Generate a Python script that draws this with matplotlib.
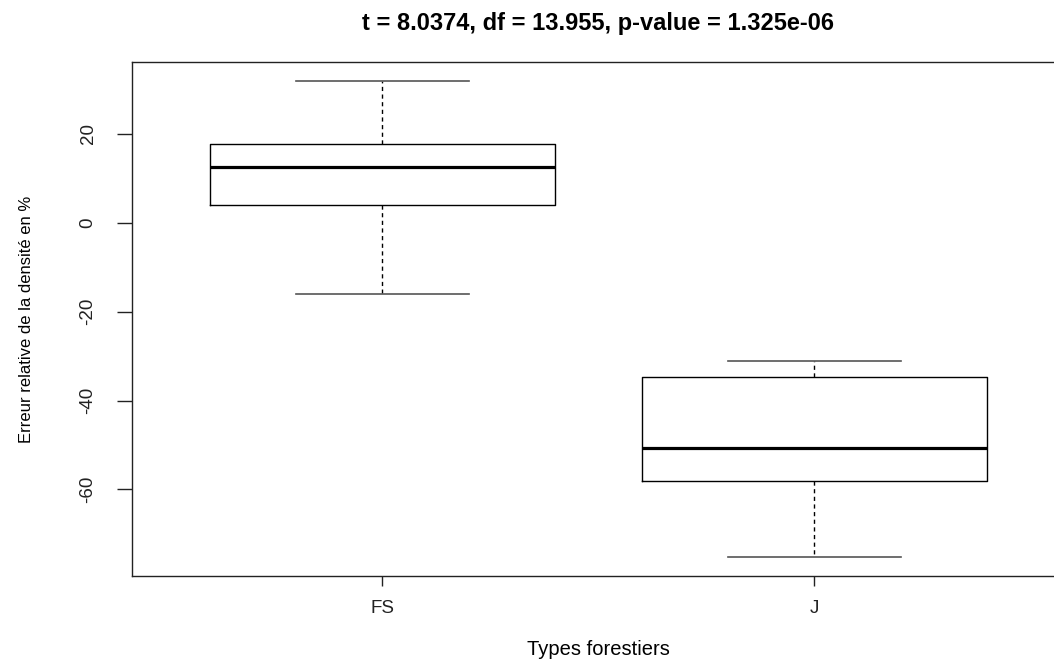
import matplotlib
matplotlib.use("Agg")
import matplotlib.pyplot as plt

# résumés des boîtes (moustache basse, Q1, médiane, Q3, moustache haute)
groupes = ["FS", "J"]
moustache_basse = [-16.1, -75.2]
q1 = [3.9, -58.2]
mediane = [12.5, -50.6]
q3 = [17.7, -34.8]
moustache_haute = [31.9, -31.0]

titre = "t = 8.0374, df = 13.955, p-value = 1.325e-06"
yticks = [-60, -40, -20, 0, 20]

plt.rcParams['font.family'] = ['Liberation Sans', 'DejaVu Sans']

fig = plt.figure(figsize=(10.54, 6.59), dpi=100)
ax = fig.add_axes([0.1252, 0.126, 0.885, 0.780])

stats = []
for i, g in enumerate(groupes):
    stats.append(dict(label=g, whislo=moustache_basse[i], q1=q1[i], med=mediane[i],
                      q3=q3[i], whishi=moustache_haute[i], fliers=[]))

ax.bxp(stats, positions=[1, 2], widths=0.8, showfliers=False,
       boxprops=dict(color='black', linewidth=1.0),
       medianprops=dict(color='black', linewidth=2.3),
       whiskerprops=dict(color='black', linewidth=1.0, linestyle=(0, (3, 2.5))),
       capprops=dict(color='#555555', linewidth=1.2),
       capwidths=0.4)

# étendue à la R : 4 % de marge
lo, hi = min(moustache_basse), max(moustache_haute)
r = hi - lo
ax.set_ylim(lo - 0.04 * r, hi + 0.04 * r)
ax.set_xlim(0.42, 2.58)

ax.set_yticks(yticks)
ax.set_yticklabels([str(v) for v in yticks], rotation=90, va='center')
ax.set_xticks([1, 2])
ax.set_xticklabels(groupes)

ax.tick_params(axis='y', length=10.5, width=1, pad=15, labelsize=13.5, colors='#222222')
ax.tick_params(axis='x', length=7, width=1, pad=10, labelsize=13.5, colors='#222222')

for s in ax.spines.values():
    s.set_linewidth(1.0)
    s.set_color('#222222')

ax.set_title(titre, fontsize=17, fontweight='bold', pad=23)
ax.set_xlabel("Types forestiers", fontsize=14.5, labelpad=17)
ax.set_ylabel("Erreur relative de la densité en %", fontsize=12, labelpad=33)

fig.savefig("out.png", dpi=100)
